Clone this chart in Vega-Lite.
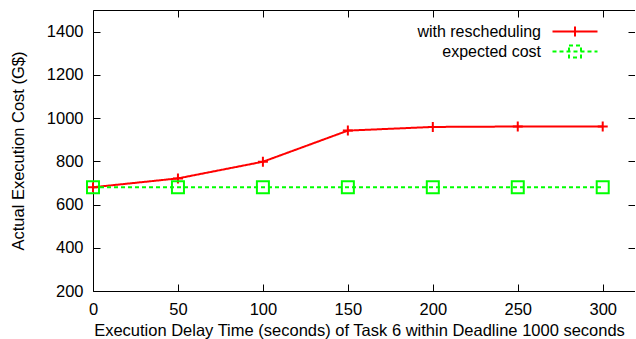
{
  "$schema": "https://vega.github.io/schema/vega-lite/v6.json",
  "width": 542,
  "height": 281,
  "autosize": {"type": "none"},
  "padding": {"left": 93, "top": 10, "right": 0, "bottom": 48},
  "background": "white",
  "config": {
    "view": {"stroke": "black", "strokeWidth": 1},
    "font": "Liberation Sans",
    "axis": {
      "grid": false,
      "domain": false,
      "ticks": true,
      "tickColor": "black",
      "tickSize": -7,
      "tickWidth": 1,
      "labelFlush": false,
      "labelFont": "Liberation Sans",
      "labelFontSize": 16.5,
      "labelColor": "black",
      "titleFont": "Liberation Sans",
      "titleFontSize": 16.5,
      "titleFontWeight": "normal",
      "titleColor": "black"
    }
  },
  "data": {
    "values": [
      {"delay": 0, "cost": 680, "series": "with rescheduling"},
      {"delay": 50, "cost": 721, "series": "with rescheduling"},
      {"delay": 100, "cost": 798, "series": "with rescheduling"},
      {"delay": 150, "cost": 942, "series": "with rescheduling"},
      {"delay": 200, "cost": 959, "series": "with rescheduling"},
      {"delay": 250, "cost": 961, "series": "with rescheduling"},
      {"delay": 300, "cost": 961, "series": "with rescheduling"},
      {"delay": 0, "cost": 680, "series": "expected cost"},
      {"delay": 50, "cost": 680, "series": "expected cost"},
      {"delay": 100, "cost": 680, "series": "expected cost"},
      {"delay": 150, "cost": 680, "series": "expected cost"},
      {"delay": 200, "cost": 680, "series": "expected cost"},
      {"delay": 250, "cost": 680, "series": "expected cost"},
      {"delay": 300, "cost": 680, "series": "expected cost"}
    ]
  },
  "layer": [
    {
      "mark": {"type": "line", "strokeWidth": 2},
      "encoding": {
        "x": {
          "field": "delay",
          "type": "quantitative",
          "scale": {"domain": [0, 319], "nice": false, "zero": false},
          "axis": {
            "orient": "bottom",
            "values": [0, 50, 100, 150, 200, 250, 300],
            "labelPadding": 17,
            "title": "Execution Delay Time (seconds) of Task 6 within Deadline 1000 seconds",
            "titlePadding": 5,
            "titleX": 266
          }
        },
        "y": {
          "field": "cost",
          "type": "quantitative",
          "scale": {"domain": [200, 1500], "nice": false, "zero": false},
          "axis": {
            "orient": "left",
            "format": "d",
            "values": [200, 400, 600, 800, 1000, 1200, 1400],
            "labelPadding": 17,
            "title": "Actual Execution Cost (G$)",
            "titlePadding": 20
          }
        },
        "color": {
          "field": "series",
          "type": "nominal",
          "scale": {"domain": ["with rescheduling", "expected cost"], "range": ["#ff0000", "#00ff00"]},
          "legend": {
            "orient": "none",
            "legendX": 473.5,
            "legendY": 13,
            "title": null,
            "padding": 0,
            "labelFont": "Liberation Sans",
            "labelFontSize": 16,
            "labelColor": "black",
            "labelAlign": "right",
            "labelOffset": -42.5,
            "symbolSize": 225,
            "symbolStrokeWidth": 2,
            "rowPadding": 0,
            "symbolType": "M-3,0H3",
            "encode": {
              "symbols": {
                "update": {
                  "shape": {"signal": "datum.value === 'with rescheduling' ? 'M-3,0H3M0,-0.67V0.67' : 'M-3,0H3M-0.8,-0.8H0.8V0.8H-0.8Z'"},
                  "strokeDash": {"signal": "datum.value === 'expected cost' ? [4,3] : [1,0]"},
                  "fill": {"value": "transparent"},
                  "strokeWidth": {"value": 2},
                  "opacity": {"value": 1}
                }
              }
            }
          }
        },
        "strokeDash": {
          "field": "series",
          "type": "nominal",
          "scale": {"domain": ["with rescheduling", "expected cost"], "range": [[1, 0], [4, 3]]},
          "legend": null
        }
      }
    },
    {
      "transform": [{"filter": "datum.series === 'with rescheduling'"}],
      "mark": {"type": "point", "filled": false, "strokeWidth": 2, "opacity": 1, "shape": "M-1,0H1M0,-1V1", "size": 100, "stroke": "#ff0000"},
      "encoding": {
        "x": {
          "field": "delay",
          "type": "quantitative",
          "scale": {"domain": [0, 319], "nice": false, "zero": false},
          "axis": {"orient": "top", "labels": false, "title": null, "values": [0, 50, 100, 150, 200, 250, 300]}
        },
        "y": {
          "field": "cost",
          "type": "quantitative",
          "scale": {"domain": [200, 1500], "nice": false, "zero": false},
          "axis": {"orient": "right", "labels": false, "title": null, "values": [200, 400, 600, 800, 1000, 1200, 1400]}
        }
      }
    },
    {
      "transform": [{"filter": "datum.series === 'expected cost'"}],
      "mark": {"type": "point", "filled": false, "strokeWidth": 2, "opacity": 1, "shape": "square", "size": 144, "stroke": "#00ff00"},
      "encoding": {
        "x": {"field": "delay", "type": "quantitative", "scale": {"domain": [0, 319], "nice": false, "zero": false}, "axis": null},
        "y": {"field": "cost", "type": "quantitative", "scale": {"domain": [200, 1500], "nice": false, "zero": false}, "axis": null}
      }
    }
  ]
}
